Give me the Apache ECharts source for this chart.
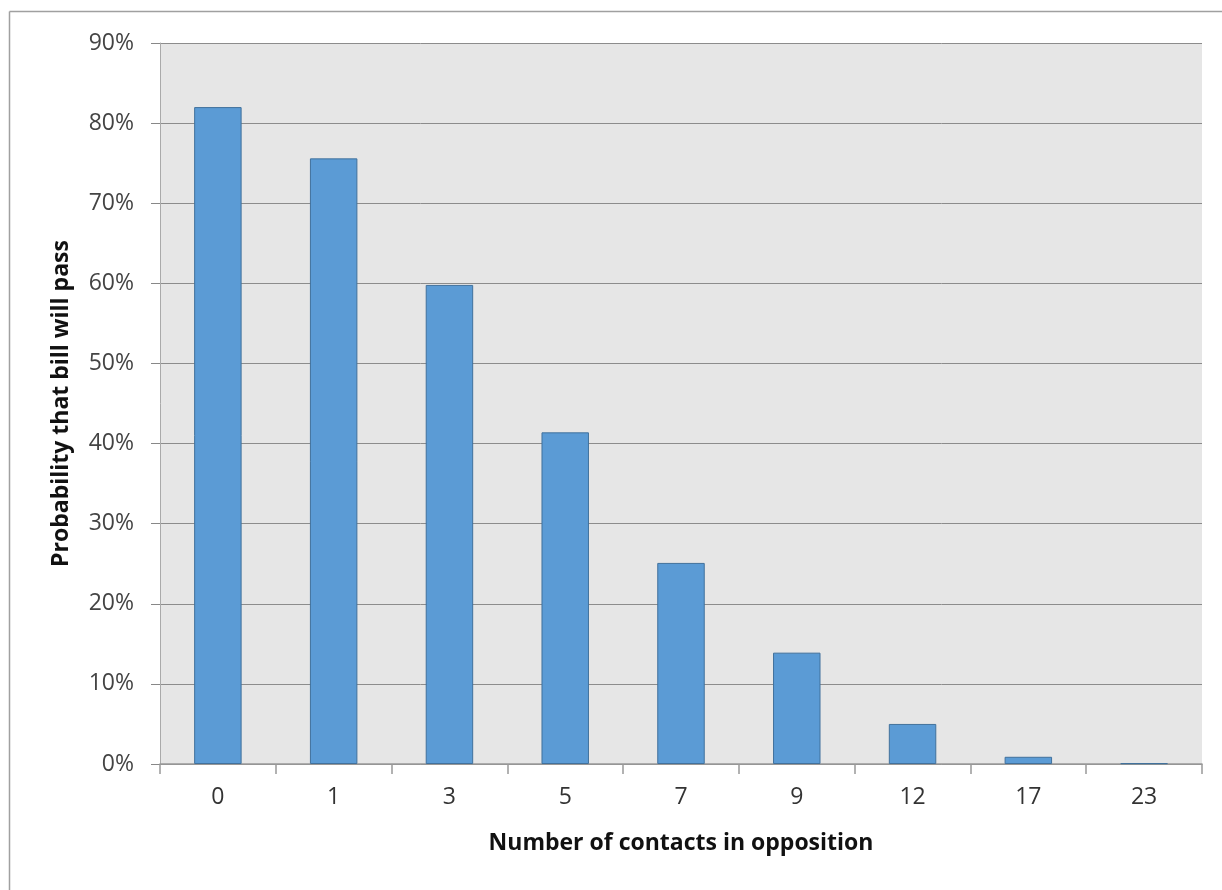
<!DOCTYPE html>
<html>
<head>
<meta charset="utf-8">
<script src="https://cdn.jsdelivr.net/npm/echarts@6/dist/echarts.min.js"></script>
<style>
html,body{margin:0;padding:0;background:#fff;}
#chart{width:1222px;height:890px;}
</style>
</head>
<body>
<div id="chart"></div>
<script>
const categories = ['0', '1', '3', '5', '7', '9', '12', '17', '23'];
const probabilities = [0.820, 0.756, 0.598, 0.414, 0.251, 0.139, 0.050, 0.009, 0.001];
const yTicks = [0, 0.1, 0.2, 0.3, 0.4, 0.5, 0.6, 0.7, 0.8, 0.9];
const xTitle = 'Number of contacts in opposition';
const yTitle = 'Probability that bill will pass';

const chart = echarts.init(document.getElementById('chart'), null, {renderer: 'canvas'});
const FONT = '"Open Sans", "Liberation Sans", sans-serif';
chart.setOption({
  animation: false,
  backgroundColor: '#ffffff',
  graphic: [
    {type: 'line', shape: {x1: 9.5, y1: 11.5, x2: 1222, y2: 11.5}, style: {stroke: '#a0a0a0', lineWidth: 1.5}},
    {type: 'line', shape: {x1: 9.5, y1: 11.5, x2: 9.5, y2: 890}, style: {stroke: '#a0a0a0', lineWidth: 1.5}}
  ],
  grid: {
    left: 160, right: 20, top: 43, bottom: 126,
    show: true, backgroundColor: '#e6e6e6', borderWidth: 0
  },
  xAxis: {
    type: 'category',
    data: categories,
    name: xTitle,
    nameLocation: 'middle',
    nameGap: 68,
    nameTextStyle: {fontFamily: FONT, fontSize: 23, fontWeight: 'bold', color: '#111'},
    axisLine: {show: true, lineStyle: {color: '#999', width: 1.5}},
    axisTick: {show: true, length: 10, alignWithLabel: false, lineStyle: {color: '#999', width: 1.5}},
    axisLabel: {fontFamily: FONT, fontSize: 23, color: '#333', margin: 22}
  },
  yAxis: {
    type: 'value',
    min: 0, max: 0.9, interval: 0.1,
    name: yTitle,
    nameLocation: 'middle',
    nameGap: 87,
    nameRotate: 90,
    nameTextStyle: {fontFamily: FONT, fontSize: 23, fontWeight: 'bold', color: '#111'},
    axisLine: {show: true, lineStyle: {color: '#aaa', width: 1}},
    axisTick: {show: true, inside: false, length: 9, lineStyle: {color: '#888', width: 1}},
    axisLabel: {
      fontFamily: FONT, fontSize: 23, color: '#444', margin: 26,
      formatter: v => Math.round(v * 100) + '%'
    },
    splitLine: {show: true, lineStyle: {color: '#8c8c8c', width: 1}}
  },
  series: [{
    type: 'bar',
    data: probabilities,
    barWidth: '41%',
    itemStyle: {color: '#5b9bd5', borderColor: '#41719c', borderWidth: 1}
  }]
});
</script>
</body>
</html>
